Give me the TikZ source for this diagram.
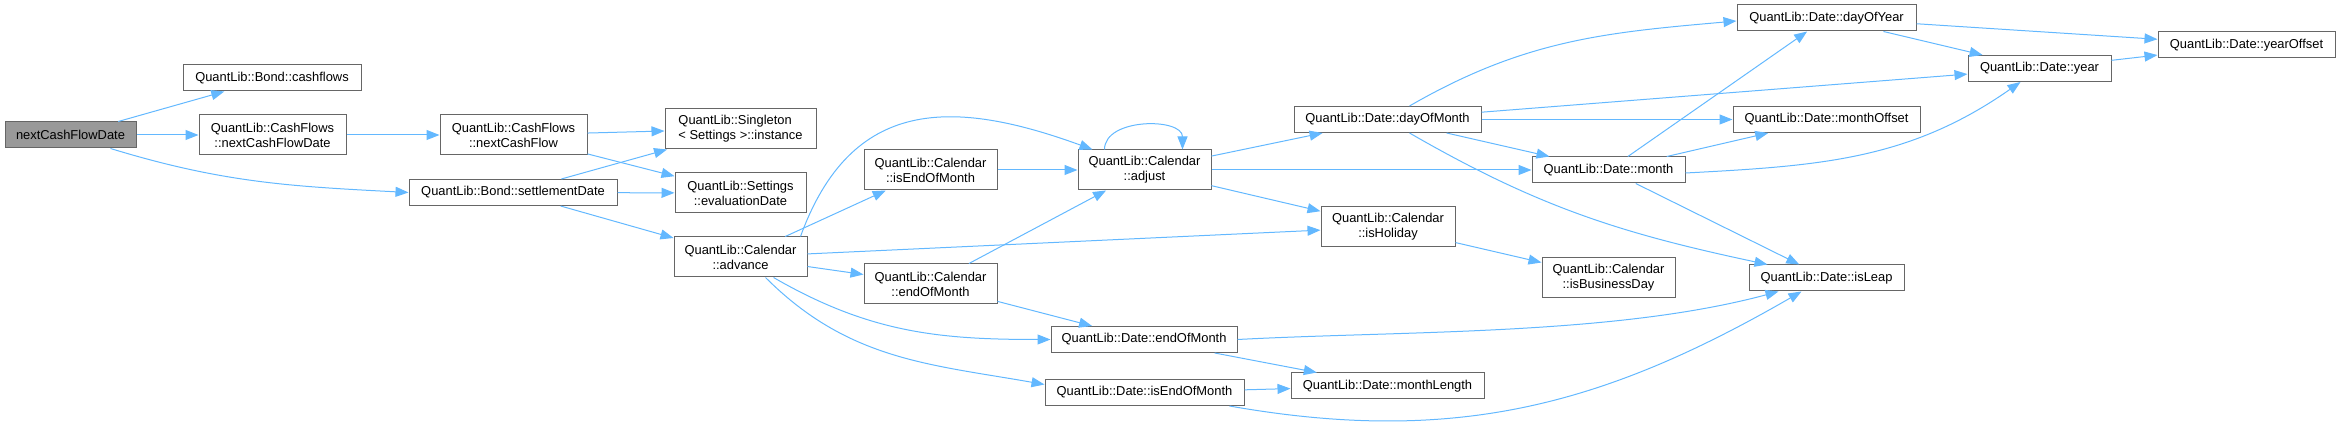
\documentclass[tikz,border=0pt]{standalone}
\usepackage{fontspec}
\setmainfont{Liberation Sans}
\usetikzlibrary{arrows.meta}
\definecolor{boxline}{HTML}{666666}
\definecolor{rootfill}{HTML}{999999}
\definecolor{callblue}{HTML}{63B8FF}

\begin{document}
\begin{tikzpicture}
  [x=1pt, y=1pt,
   func/.style={
     rectangle,
     draw=boxline,
     fill=white,
     line width=1pt,
     inner sep=0pt,
     minimum height=26pt,
     align=center,
     font=\fontsize{12.9}{15}\selectfont
     },
   twoline/.style={func, minimum height=40pt},
   call/.style={draw=callblue, line width=1pt, -{Triangle[length=13pt,width=10pt]}}
  ]
  \useasboundingbox (0,0) rectangle (2340,425);

  % colonne del grafo, da sinistra a destra
  \node [func, fill=rootfill, minimum width=131] (nextcashflowdate) at (70.5,290) {nextCashFlowDate};

  \node [func, minimum width=178] (bondcashflows) at (272,347) {QuantLib::Bond::cashflows};
  \node [twoline, minimum width=147] (cfnextcashflowdate) at (272.5,290) {QuantLib::CashFlows\\::nextCashFlowDate};

  \node [twoline, minimum width=147] (cfnextcashflow) at (513.5,290) {QuantLib::CashFlows\\::nextCashFlow};
  \node [func, minimum width=208] (bondsettlementdate) at (513,232.5) {QuantLib::Bond::settlementDate};

  \node [twoline, minimum width=151, align=left] (singletoninstance) at (740.5,296) {QuantLib::Singleton\\< Settings >::instance};
  \node [twoline, minimum width=131] (settingsevaluationdate) at (740.5,232) {QuantLib::Settings\\::evaluationDate};
  \node [twoline, minimum width=133] (calendaradvance) at (740.5,168) {QuantLib::Calendar\\::advance};

  \node [twoline, minimum width=133] (calendariseom) at (930.5,255) {QuantLib::Calendar\\::isEndOfMonth};
  \node [twoline, minimum width=133] (calendareom) at (930.5,141) {QuantLib::Calendar\\::endOfMonth};

  \node [twoline, minimum width=133] (calendaradjust) at (1144.5,255) {QuantLib::Calendar\\::adjust};
  \node [func, minimum width=186] (dateeom) at (1144,85.5) {QuantLib::Date::endOfMonth};
  \node [func, minimum width=199] (dateiseom) at (1144.5,32.5) {QuantLib::Date::isEndOfMonth};

  \node [func, minimum width=187] (datedayofmonth) at (1387.5,305.5) {QuantLib::Date::dayOfMonth};
  \node [twoline, minimum width=134] (calendarisholiday) at (1388,198) {QuantLib::Calendar\\::isHoliday};
  \node [func, minimum width=193] (datemonthlength) at (1387.5,39) {QuantLib::Date::monthLength};

  \node [func, minimum width=153] (datemonth) at (1608.5,255) {QuantLib::Date::month};
  \node [twoline, minimum width=133] (calendarisbusinessday) at (1608.5,147) {QuantLib::Calendar\\::isBusinessDay};

  \node [func, minimum width=179] (datedayofyear) at (1826.5,407) {QuantLib::Date::dayOfYear};
  \node [func, minimum width=187] (datemonthoffset) at (1826.5,305.5) {QuantLib::Date::monthOffset};
  \node [func, minimum width=155] (dateisleap) at (1826.5,147) {QuantLib::Date::isLeap};

  \node [func, minimum width=143] (dateyear) at (2039.5,356.5) {QuantLib::Date::year};
  \node [func, minimum width=177] (dateyearoffset) at (2246.5,380) {QuantLib::Date::yearOffset};

  % chiamate
  \draw[call] (nextcashflowdate) -- (bondcashflows);
  \draw[call] (nextcashflowdate) -- (cfnextcashflowdate);
  \draw[call] ([xshift=40pt]nextcashflowdate.south) to[out=-17,in=177] (bondsettlementdate.west);

  \draw[call] (cfnextcashflowdate) -- (cfnextcashflow);
  \draw[call] (cfnextcashflow) -- (singletoninstance);
  \draw[call] (cfnextcashflow) -- (settingsevaluationdate);

  \draw[call] (bondsettlementdate) -- (singletoninstance);
  \draw[call] (bondsettlementdate) -- (settingsevaluationdate);
  \draw[call] (bondsettlementdate) -- (calendaradvance);

  \draw[call] (calendaradvance) -- (calendariseom);
  \draw[call] ([xshift=-7pt]calendaradvance.north east) to[out=70,in=160,looseness=1.25] ([xshift=15pt]calendaradjust.north west);
  \draw[call] (calendaradvance) -- (calendarisholiday);
  \draw[call] (calendaradvance) -- (calendareom);
  \draw[call] ([xshift=33pt]calendaradvance.south) to[out=-30,in=180] (dateeom.west);
  \draw[call] ([xshift=25pt]calendaradvance.south) to[out=-45,in=170] ([yshift=8pt]dateiseom.west);

  \draw[call] (calendariseom) -- (calendaradjust);
  \draw[call] (calendareom) -- (calendaradjust);
  \draw[call] (calendareom) -- (dateeom);

  \draw[call] ([xshift=-40pt]calendaradjust.north) to[out=90,in=90,looseness=1.05] ([xshift=38pt]calendaradjust.north);
  \draw[call] (calendaradjust) -- (datedayofmonth);
  \draw[call] (calendaradjust) -- (datemonth);
  \draw[call] (calendaradjust) -- (calendarisholiday);

  \draw[call] (dateeom) -- (datemonthlength);
  \draw[call] (dateeom.east) to[out=3,in=195,looseness=0.8] ([xshift=-48pt]dateisleap.south);
  \draw[call] (dateiseom) -- (datemonthlength);
  \draw[call] ([xshift=85pt]dateiseom.south) to[out=-10,in=210] ([xshift=-25pt]dateisleap.south);

  \draw[call] ([xshift=22pt]datedayofmonth.north) to[out=30,in=185] ([yshift=-3pt]datedayofyear.west);
  \draw[call] (datedayofmonth) -- (dateyear);
  \draw[call] (datedayofmonth) -- (datemonthoffset);
  \draw[call] (datedayofmonth) -- (datemonth);
  \draw[call] ([xshift=22pt]datedayofmonth.south) to[out=-30,in=168] ([xshift=-59pt]dateisleap.north);

  \draw[call] (calendarisholiday) -- (calendarisbusinessday);

  \draw[call] (datemonth) -- (datedayofyear);
  \draw[call] (datemonth) -- (datemonthoffset);
  \draw[call] ([yshift=-3pt]datemonth.east) to[out=3,in=215] ([xshift=-19pt]dateyear.south);
  \draw[call] (datemonth) -- (dateisleap);

  \draw[call] (datedayofyear) -- (dateyearoffset);
  \draw[call] (datedayofyear) -- (dateyear);
  \draw[call] (dateyear) -- (dateyearoffset);
\end{tikzpicture}
\end{document}
